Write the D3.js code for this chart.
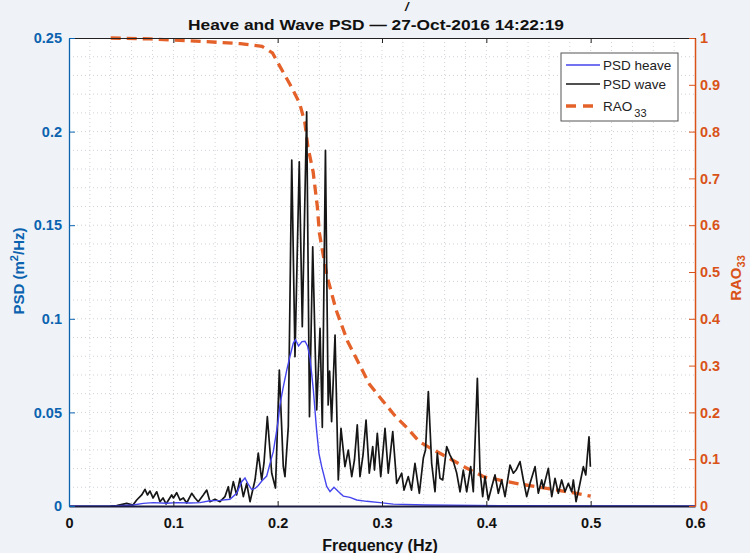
<!DOCTYPE html>
<html><head><meta charset="utf-8">
<script src="https://cdn.jsdelivr.net/npm/d3@7"></script>
<style>
html,body{margin:0;padding:0;background:#eff2f6;}
svg{display:block;}
text{font-family:"Liberation Sans",Arial,sans-serif;}
</style></head>
<body><svg id="c" width="750" height="553"></svg>
<script>
// ---------- data ----------
const xTicks = [0, 0.1, 0.2, 0.3, 0.4, 0.5, 0.6];
const yLeftTicks = [0, 0.05, 0.1, 0.15, 0.2, 0.25];
const yRightTicks = [0, 0.1, 0.2, 0.3, 0.4, 0.5, 0.6, 0.7, 0.8, 0.9, 1];
const seriesNames = ["PSD heave", "PSD wave", "RAO"];

const heaveF = [0, 0.042, 0.0616, 0.0712, 0.0808, 0.0936, 0.1032, 0.116, 0.1256, 0.1351, 0.1447, 0.1543, 0.1607, 0.1655, 0.1687, 0.1719, 0.1751, 0.1783, 0.1814, 0.1850, 0.1895, 0.1927, 0.1958, 0.1984, 0.2006, 0.2022, 0.2054, 0.2087, 0.2118, 0.2150, 0.2171, 0.2200, 0.2233, 0.2262, 0.2286, 0.2310, 0.2342, 0.2374, 0.2396, 0.2422, 0.2470, 0.2502, 0.2540, 0.2581, 0.2629, 0.2693, 0.2758, 0.2853, 0.2981, 0.3108, 0.3429, 0.413, 0.6];
const heaveV = [0, 0, 0.0005, 0.0014, 0.0018, 0.0015, 0.0018, 0.0016, 0.0018, 0.0028, 0.0030, 0.0036, 0.0068, 0.0130, 0.0150, 0.0115, 0.0088, 0.0094, 0.0110, 0.0135, 0.0160, 0.0228, 0.0290, 0.0380, 0.0460, 0.0540, 0.0637, 0.0726, 0.0800, 0.0870, 0.0888, 0.0855, 0.0878, 0.0880, 0.0855, 0.0790, 0.0620, 0.0400, 0.0280, 0.0210, 0.0105, 0.0077, 0.0100, 0.0077, 0.0053, 0.0046, 0.0032, 0.0025, 0.0018, 0.0010, 0.0005, 0.0002, 0];

const waveF = [0.0400, 0.0457, 0.0553, 0.0613, 0.0649, 0.0697, 0.0728, 0.0752, 0.0776, 0.0805, 0.0841, 0.0872, 0.0901, 0.0930, 0.0984, 0.1001, 0.1032, 0.1064, 0.1096, 0.1128, 0.1176, 0.1208, 0.1239, 0.1287, 0.1320, 0.1351, 0.1399, 0.1447, 0.1495, 0.1527, 0.1543, 0.1575, 0.1607, 0.1639, 0.1671, 0.1703, 0.1735, 0.1783, 0.1814, 0.1847, 0.1869, 0.1901, 0.1943, 0.1979, 0.2016, 0.2054, 0.2070, 0.2102, 0.2135, 0.2166, 0.2207, 0.2236, 0.2278, 0.2305, 0.2336, 0.2374, 0.2406, 0.2428, 0.2458, 0.2484, 0.2498, 0.2517, 0.2550, 0.2581, 0.2607, 0.2645, 0.2677, 0.2710, 0.2736, 0.2763, 0.2789, 0.2818, 0.2847, 0.2878, 0.2911, 0.2928, 0.2955, 0.2988, 0.3029, 0.3060, 0.3103, 0.3141, 0.3189, 0.3211, 0.3252, 0.3283, 0.3316, 0.3358, 0.3396, 0.3417, 0.3444, 0.3476, 0.3508, 0.3530, 0.3556, 0.3582, 0.3620, 0.3652, 0.3684, 0.3716, 0.3748, 0.3779, 0.3812, 0.3850, 0.3875, 0.3914, 0.3939, 0.3965, 0.3987, 0.4019, 0.4052, 0.4083, 0.4115, 0.4147, 0.4179, 0.4227, 0.4259, 0.4285, 0.4323, 0.4355, 0.4387, 0.4419, 0.4467, 0.4498, 0.4531, 0.4546, 0.4594, 0.4627, 0.4658, 0.4690, 0.4722, 0.4754, 0.4786, 0.4818, 0.4834, 0.4860, 0.4891, 0.4930, 0.4953, 0.4984, 0.4997];
const waveV = [0.0000, 0.0002, 0.0014, 0.0005, 0.0032, 0.0059, 0.0089, 0.0059, 0.0080, 0.0043, 0.0076, 0.0023, 0.0043, 0.0011, 0.0059, 0.0043, 0.0071, 0.0032, 0.0043, 0.0016, 0.0068, 0.0043, 0.0023, 0.0059, 0.0085, 0.0023, 0.0036, 0.0023, 0.0050, 0.0103, 0.0043, 0.0130, 0.0059, 0.0148, 0.0050, 0.0121, 0.0023, 0.0139, 0.0282, 0.0139, 0.0230, 0.0477, 0.0175, 0.0096, 0.0726, 0.0210, 0.0157, 0.0424, 0.1848, 0.0798, 0.1839, 0.0958, 0.2106, 0.0477, 0.1385, 0.0513, 0.0949, 0.0420, 0.1900, 0.0540, 0.0720, 0.0450, 0.0913, 0.0139, 0.0415, 0.0210, 0.0299, 0.0157, 0.0246, 0.0433, 0.0157, 0.0272, 0.0459, 0.0175, 0.0317, 0.0192, 0.0388, 0.0157, 0.0415, 0.0175, 0.0397, 0.0121, 0.0175, 0.0085, 0.0157, 0.0085, 0.0228, 0.0068, 0.0256, 0.0299, 0.0611, 0.0228, 0.0076, 0.0282, 0.0148, 0.0139, 0.0317, 0.0272, 0.0237, 0.0176, 0.0076, 0.0192, 0.0076, 0.0210, 0.0076, 0.0682, 0.0192, 0.0050, 0.0157, 0.0032, 0.0103, 0.0166, 0.0068, 0.0139, 0.0050, 0.0219, 0.0175, 0.0192, 0.0237, 0.0139, 0.0050, 0.0121, 0.0210, 0.0068, 0.0139, 0.0095, 0.0201, 0.0050, 0.0148, 0.0068, 0.0139, 0.0076, 0.0121, 0.0076, 0.0139, 0.0023, 0.0103, 0.0210, 0.0166, 0.0370, 0.0210];

const raoF = [0.040, 0.078, 0.126, 0.164, 0.185, 0.195, 0.202, 0.212, 0.221, 0.226, 0.229, 0.234, 0.238, 0.240, 0.247, 0.256, 0.267, 0.277, 0.288, 0.301, 0.312, 0.324, 0.336, 0.351, 0.366, 0.381, 0.398, 0.414, 0.432, 0.449, 0.468, 0.484, 0.500];
const raoV = [1.000, 0.998, 0.993, 0.988, 0.982, 0.968, 0.940, 0.900, 0.861, 0.820, 0.767, 0.714, 0.640, 0.583, 0.494, 0.419, 0.352, 0.308, 0.260, 0.224, 0.194, 0.167, 0.137, 0.118, 0.100, 0.081, 0.062, 0.055, 0.047, 0.041, 0.034, 0.028, 0.021];

// ---------- layout ----------
const L = 69, R = 695, T = 38, B = 506;
const cBlue = "#0b63b0", cOrange = "#d95319";
const svg = d3.select("#c");
const x = d3.scaleLinear().domain([0, 0.6]).range([L, R]);
const yL = d3.scaleLinear().domain([0, 0.25]).range([B, T]);
const yR = d3.scaleLinear().domain([0, 1]).range([B, T]);

svg.append("rect").attr("x", L).attr("y", T).attr("width", R - L).attr("height", B - T).attr("fill", "#fff");

// grid (dotted)
const gGrid = svg.append("g").attr("stroke", "#cfd3d8").attr("stroke-width", 1).attr("stroke-dasharray", "1,3");
gGrid.selectAll("line.v").data(d3.range(1, 30)).enter().append("line")
  .attr("x1", d => x(d * 0.02)).attr("x2", d => x(d * 0.02)).attr("y1", T).attr("y2", B);
gGrid.selectAll("line.h").data(d3.range(1, 25)).enter().append("line")
  .attr("y1", d => yL(d * 0.01)).attr("y2", d => yL(d * 0.01)).attr("x1", L).attr("x2", R);

// clip
svg.append("clipPath").attr("id", "clip").append("rect").attr("x", L).attr("y", T - 2).attr("width", R - L).attr("height", B - T + 3);
const plot = svg.append("g").attr("clip-path", "url(#clip)");

const lineL = d3.line().x(d => x(d[0])).y(d => yL(d[1]));
const lineR = d3.line().x(d => x(d[0])).y(d => yR(d[1]));

plot.append("path").datum(raoF.map((f, i) => [f, raoV[i]])).attr("d", lineR)
  .attr("fill", "none").attr("stroke", "#e4612a").attr("stroke-width", 3.3).attr("stroke-dasharray", "10,6");
plot.append("path").datum(waveF.map((f, i) => [f, waveV[i]])).attr("d", lineL)
  .attr("fill", "none").attr("stroke", "#161616").attr("stroke-width", 1.7).attr("stroke-linejoin", "round");
plot.append("path").datum(heaveF.map((f, i) => [f, heaveV[i]])).attr("d", lineL)
  .attr("fill", "none").attr("stroke", "#4545ee").attr("stroke-width", 1.4);

// axes
const fmt = d => d3.format("")(+d.toFixed(2));
const axB = svg.append("g").attr("transform", `translate(0,${B})`)
  .call(d3.axisBottom(x).tickValues(xTicks).tickSizeInner(-5).tickSizeOuter(0).tickPadding(12).tickFormat(fmt));
axB.select(".domain").attr("stroke", "#1a1a40").attr("stroke-width", 1.8);
axB.selectAll(".tick line").attr("stroke", "#222");
axB.selectAll("text").attr("font-size", 14.5).attr("font-weight", "bold").attr("fill", "#111");

const axT = svg.append("g").attr("transform", `translate(0,${T})`)
  .call(d3.axisTop(x).tickValues(xTicks).tickSizeInner(-5).tickSizeOuter(0).tickFormat(""));
axT.select(".domain").attr("stroke", "#222");
axT.selectAll(".tick line").attr("stroke", "#222");

const axLft = svg.append("g").attr("transform", `translate(${L},0)`)
  .call(d3.axisLeft(yL).tickValues(yLeftTicks).tickSizeInner(-6).tickSizeOuter(0).tickPadding(7).tickFormat(fmt));
axLft.select(".domain").attr("stroke", cBlue).attr("stroke-width", 1.3);
axLft.selectAll(".tick line").attr("stroke", cBlue);
axLft.selectAll("text").attr("font-size", 14.5).attr("font-weight", "bold").attr("fill", cBlue);

const axRgt = svg.append("g").attr("transform", `translate(${R},0)`)
  .call(d3.axisRight(yR).tickValues(yRightTicks).tickSizeInner(-6).tickSizeOuter(0).tickPadding(5).tickFormat(fmt));
axRgt.select(".domain").attr("stroke", cOrange).attr("stroke-width", 1.5);
axRgt.selectAll(".tick line").attr("stroke", cOrange);
axRgt.selectAll("text").attr("font-size", 14.5).attr("font-weight", "bold").attr("fill", cOrange);

// titles & labels
svg.append("text").attr("x", 405).attr("y", 11).attr("font-size", 13).attr("font-weight", "bold")
  .attr("font-style", "italic").attr("fill", "#111").text("/");
svg.append("text").attr("x", 376).attr("y", 30).attr("text-anchor", "middle").attr("font-size", 15)
  .attr("font-weight", "bold").attr("fill", "#111")
  .attr("textLength", 376).attr("lengthAdjust", "spacingAndGlyphs")
  .text("Heave and Wave PSD  \u2014  27-Oct-2016 14:22:19");
svg.append("text").attr("x", 380).attr("y", 551).attr("text-anchor", "middle").attr("font-size", 16)
  .attr("font-weight", "bold").attr("fill", "#111").text("Frequency (Hz)");

const yl = svg.append("text").attr("transform", "translate(24,271) rotate(-90)").attr("text-anchor", "middle")
  .attr("font-size", 15).attr("font-weight", "bold").attr("fill", cBlue);
yl.append("tspan").text("PSD (m");
yl.append("tspan").attr("dy", -6).attr("font-size", 11).text("2");
yl.append("tspan").attr("dy", 6).text("/Hz)");

const yr = svg.append("text").attr("transform", "translate(741,278) rotate(-90)").attr("text-anchor", "middle")
  .attr("font-size", 15).attr("font-weight", "bold").attr("fill", cOrange);
yr.append("tspan").text("RAO");
yr.append("tspan").attr("dy", 4).attr("font-size", 11).text("33");

// legend
const lg = svg.append("g");
lg.append("rect").attr("x", 561).attr("y", 53).attr("width", 117).attr("height", 68)
  .attr("fill", "#fff").attr("stroke", "#555").attr("stroke-width", 1);
const legItems = [
  {name: seriesNames[0], color: "#4545ee", w: 1.4, dash: null, y: 65},
  {name: seriesNames[1], color: "#161616", w: 1.4, dash: null, y: 84},
  {name: seriesNames[2], color: "#e4612a", w: 3.3, dash: "10,7", y: 106}
];
legItems.forEach((d, i) => {
  lg.append("line").attr("x1", 566).attr("x2", 600).attr("y1", d.y).attr("y2", d.y)
    .attr("stroke", d.color).attr("stroke-width", d.w).attr("stroke-dasharray", d.dash);
  const t = lg.append("text").attr("x", 603).attr("y", d.y + 5).attr("font-size", 13.5).attr("fill", "#222");
  t.append("tspan").text(d.name);
  if (i === 2) t.append("tspan").attr("dx", 2).attr("dy", 6).attr("font-size", 11).text("33");
});
</script></body></html>
